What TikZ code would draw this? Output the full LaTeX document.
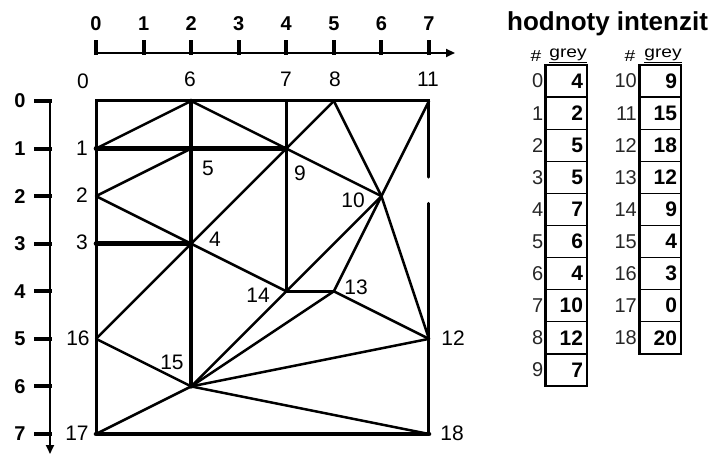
\documentclass[tikz,border=0pt]{standalone}
\usepackage{fontspec}
\setmainfont{Liberation Sans}
\usetikzlibrary{arrows.meta}
\begin{document}
\begin{tikzpicture}[x=1pt,y=-1pt,
  lab/.style={font=\fontsize{21}{22}\selectfont, inner sep=0pt},
  axlab/.style={font=\fontsize{20}{22}\selectfont\bfseries, inner sep=0pt},
  axisline/.style={line width=2.2pt},
  axtick/.style={line width=4pt},
  thin/.style={line width=2.5pt, line cap=round},
  border/.style={line width=3pt, line cap=round},
  thick/.style={line width=4.6pt, line cap=round},
  cell/.style={draw, line width=1.3pt, minimum height=32.1pt, text width=33pt,
    inner xsep=4pt, inner ysep=0pt, align=right, font=\fontsize{21}{22}\selectfont\bfseries},
  idx/.style={font=\fontsize{20}{22}\selectfont, inner sep=0pt, anchor=east, text=black!85},
  hdr/.style={font=\fontsize{16}{17}\selectfont, inner sep=0pt},
  title/.style={font=\fontsize{26}{28}\selectfont\bfseries, inner sep=0pt}]
\useasboundingbox (0,0) rectangle (712,454);

% top axis
\coordinate (tx0) at (96,53);
\coordinate (txend) at (455,53);
\draw[axisline, -{Triangle[length=9pt,width=8pt]}] (tx0) -- (txend);
\foreach \i in {0,...,7}{
  \draw[axtick] ({96+47.57*\i},55) -- ({96+47.57*\i},40);
  \node[axlab] (tl\i) at ({96+47.57*\i},24) {\i};
}

% left axis
\coordinate (ly0) at (50,101);
\coordinate (lyend) at (50,454);
\draw[axisline, -{Triangle[length=9pt,width=8pt]}] (ly0) -- (lyend);
\foreach \j in {0,...,7}{
  \draw[axtick] (34,{101+47.57*\j}) -- (52,{101+47.57*\j});
  \node[axlab] (ll\j) at (20,{101+47.57*\j}) {\j};
}

% mesh vertices
\begin{scope}[shift={(96pt,-101pt)},x=47.57pt,y=-47.57pt]
  \coordinate (n0) at (0,0);
  \coordinate (n6) at (2,0);
  \coordinate (n7) at (4,0);
  \coordinate (n8) at (5,0);
  \coordinate (n11) at (7,0);
  \coordinate (n1) at (0,1);
  \coordinate (n5) at (2,1);
  \coordinate (n9) at (4,1);
  \coordinate (n2) at (0,2);
  \coordinate (n10) at (6,2);
  \coordinate (n3) at (0,3);
  \coordinate (n4) at (2,3);
  \coordinate (n14) at (4,4);
  \coordinate (n13) at (5,4);
  \coordinate (n16) at (0,5);
  \coordinate (n12) at (7,5);
  \coordinate (n15) at (2,6);
  \coordinate (n17) at (0,7);
  \coordinate (n18) at (7,7);
  \coordinate (gapA) at (7,1.6);
  \coordinate (gapB) at (7,2.15);
\end{scope}

% interior edges
\draw[thin] (n1) -- (n6);
\draw[thin] (n6) -- (n9);
\draw[thin] (n2) -- (n5);
\draw[thin] (n2) -- (n4);
\draw[thin] (n4) -- (n9);
\draw[thin] (n9) -- (n8);
\draw[thin] (n9) -- (n10);
\draw[thin] (n8) -- (n10);
\draw[thin] (n11) -- (n10);
\draw[thin] (n10) -- (n12);
\draw[thin] (n10) -- (n14);
\draw[thin] (n10) -- (n13);
\draw[thin] (n4) -- (n14);
\draw[thin] (n14) -- (n13);
\draw[thin] (n13) -- (n12);
\draw[thin] (n4) -- (n16);
\draw[thin] (n16) -- (n15);
\draw[thin] (n15) -- (n17);
\draw[thin] (n15) -- (n14);
\draw[thin] (n15) -- (n13);
\draw[thin] (n15) -- (n12);
\draw[thin] (n15) -- (n18);
\draw[thin] (n7) -- (n9) -- (n14);

% border
\draw[border] (n17) -- (n16) -- (n3) -- (n2) -- (n1) -- (n0) -- (n6) -- (n7) -- (n8) -- (n11) -- (gapA);
\draw[border] (gapB) -- (n12) -- (n18);

% thick edges
\draw[thick] (n1) -- (n5) -- (n9);
\draw[thick] (n3) -- (n4);
\draw[thick] (n6) -- (n5) -- (n4) -- (n15);
\draw[thick] (n17) -- (n18);

% vertex labels
\node[lab] (v0) at (83,81) {0};
\node[lab] (v6) at (190,79) {6};
\node[lab] (v7) at (286,79) {7};
\node[lab] (v8) at (335,79) {8};
\node[lab] (v11) at (428,79) {11};
\node[lab] (v1) at (82,148) {1};
\node[lab] (v2) at (82,195) {2};
\node[lab] (v3) at (82,242) {3};
\node[lab] (v5) at (208,168) {5};
\node[lab] (v4) at (215,239) {4};
\node[lab] (v9) at (300,173) {9};
\node[lab] (v10) at (353,200) {10};
\node[lab] (v14) at (258,295) {14};
\node[lab] (v13) at (356,287) {13};
\node[lab] (v12) at (453,338) {12};
\node[lab] (v18) at (452,433) {18};
\node[lab] (v16) at (78,338) {16};
\node[lab] (v15) at (172,362) {15};
\node[lab] (v17) at (77,433) {17};

% title
\node[title, anchor=base west] (title) at (507,31) {hodnoty intenzit};

% table headers
\node[hdr] (h1a) at (536,56) {\scalebox{1.2}[1]{\#}};
\node[hdr] (h1b) at (568,56) {\scalebox{1.2}[1]{\underline{grey}}};
\node[hdr] (h2a) at (630,56) {\scalebox{1.2}[1]{\#}};
\node[hdr] (h2b) at (663,56) {\scalebox{1.2}[1]{\underline{grey}}};

% table 1
\foreach \v [count=\i from 0] in {4,2,5,5,7,6,4,10,12,7}{
  \node[cell] (a\i) at (566.5,{65+32.1*(\i+0.5)}) {\v};
  \node[idx] (ia\i) at (543.5,{65+32.1*(\i+0.5)}) {\i};
}
\draw[line width=3pt] (a0.north west) -- (a9.south west);

% table 2
\foreach \v [count=\i from 0] in {9,15,18,12,9,4,3,0,20}{
  \pgfmathtruncatemacro{\k}{\i+10}
  \node[cell] (b\i) at (660.5,{65+32.1*(\i+0.5)}) {\v};
  \node[idx] (ib\i) at (637,{65+32.1*(\i+0.5)}) {\k};
}
\draw[line width=3pt] (b0.north west) -- (b8.south west);
\end{tikzpicture}
\end{document}
